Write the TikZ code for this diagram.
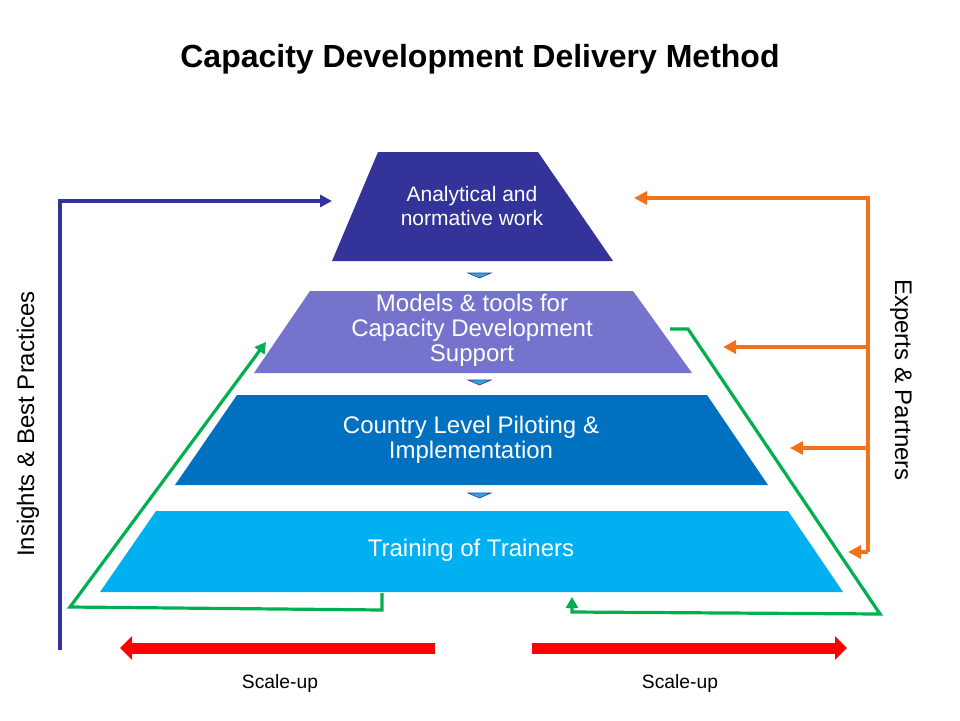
\documentclass[tikz,border=0pt]{standalone}
\usepackage{fontspec}
\setmainfont{Liberation Sans}
\usetikzlibrary{arrows.meta}
\definecolor{navy}{RGB}{51,51,153}
\definecolor{lav}{RGB}{117,115,204}
\definecolor{midblue}{RGB}{0,112,192}
\definecolor{skyblue}{RGB}{0,176,240}
\definecolor{tricol}{RGB}{40,170,225}
\definecolor{orng}{RGB}{242,113,28}
\definecolor{grn}{RGB}{0,176,80}
\definecolor{rd}{RGB}{255,0,0}
\tikzset{
  layertext/.style={text=white, align=center, font=\fontsize{24}{25}\selectfont},
  sidetext/.style={text=black, font=\fontsize{24}{26}\selectfont},
  scaletext/.style={text=black, font=\fontsize{19.3}{20}\selectfont},
  bluearrow/.style={draw=navy, line width=3.6pt, -{Triangle[length=12pt,width=12pt]}},
  orangearrow/.style={draw=orng, line width=3.6pt, -{Triangle[length=13pt,width=13pt]}},
  greenarrow/.style={draw=grn, line width=3.2pt, -{Triangle[length=11pt,width=12pt]}},
  redarrow/.style={draw=rd, line width=11pt, -{Triangle[length=12pt,width=23pt]}},
  sep/.style={fill=tricol, draw=navy, line width=0.6pt}
}
\begin{document}
\begin{tikzpicture}[x=1pt,y=-1pt]
\useasboundingbox (0,0) rectangle (960,720);

% title
\node[font=\bfseries\fontsize{32}{34}\selectfont] (title) at (480,59) {Capacity Development Delivery Method};

% pyramid layers
\fill[navy] (378,152) -- (538,152) -- (613,261) -- (332,261) -- cycle;
\fill[lav] (310,291) -- (633,291) -- (692,373) -- (254,373) -- cycle;
\fill[midblue] (237,395) -- (707,395) -- (768,485) -- (175,485) -- cycle;
\fill[skyblue] (156,511) -- (788,511) -- (843,592) -- (100,592) -- cycle;

% small separators
\filldraw[sep] (468,273) -- (491,273) -- (479.5,278) -- cycle;
\filldraw[sep] (468,380) -- (491,380) -- (479.5,385) -- cycle;
\filldraw[sep] (468,493) -- (491,493) -- (479.5,498) -- cycle;

% layer texts
\node[layertext, font=\fontsize{21}{24}\selectfont] (l1) at (472,206) {Analytical and\\normative work};
\node[layertext] (l2) at (472,330) {Models \& tools for\\Capacity Development\\Support};
\node[layertext] (l3) at (471,440) {Country Level Piloting \&\\Implementation};
\node[layertext] (l4) at (471,550) {Training of Trainers};

% side texts
\node[sidetext, rotate=90] (ins) at (28,424) {Insights \& Best Practices};
\node[sidetext, rotate=-90] (exp) at (901,380) {Experts \& Partners};

% blue feedback line
\coordinate (insB) at (60,650);
\coordinate (insT) at (332,201);
\draw[bluearrow] (insB) |- (insT);

% orange lines
\coordinate (ov) at (868,552);
\coordinate (o1) at (634,198);
\coordinate (o2) at (723,347);
\coordinate (o3) at (790,448);
\coordinate (o4) at (848,552);
\draw[orangearrow] (ov) |- (o1);
\draw[orangearrow] (ov |- o2) -- (o2);
\draw[orangearrow] (ov |- o3) -- (o3);
\draw[orangearrow] (ov) -- (o4);

% green loops
\coordinate (gL0) at (382,593);
\coordinate (gL1) at (382,610);
\coordinate (gL2) at (70,607);
\coordinate (gL3) at (266,342);
\draw[greenarrow] (gL0) -- (gL1) -- (gL2) -- (gL3);
\coordinate (gR0) at (670,329);
\coordinate (gR1) at (688,329);
\coordinate (gR2) at (880,614);
\coordinate (gR3) at (572,612);
\coordinate (gR4) at (572,597);
\draw[greenarrow] (gR0) -- (gR1) -- (gR2) -- (gR3) -- (gR4);

% scale-up arrows
\coordinate (rLs) at (435,648);
\coordinate (rLe) at (120,648);
\coordinate (rRs) at (532,648);
\coordinate (rRe) at (847,648);
\draw[redarrow] (rLs) -- (rLe);
\draw[redarrow] (rRs) -- (rRe);
\node[scaletext] (s1) at (280,683) {Scale-up};
\node[scaletext] (s2) at (680,683) {Scale-up};
\end{tikzpicture}
\end{document}
